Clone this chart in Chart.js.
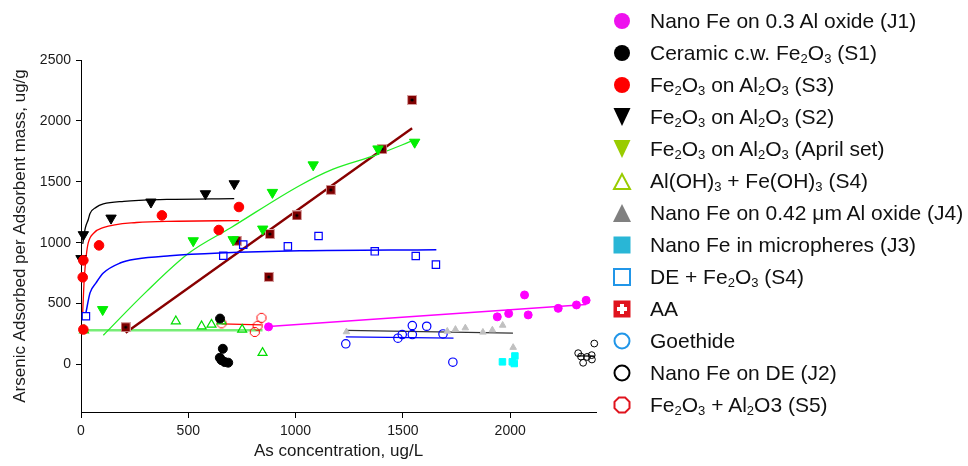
<!DOCTYPE html>
<html>
<head>
<meta charset="utf-8">
<script src="https://cdn.jsdelivr.net/npm/chart.js@4.4.1/dist/chart.umd.min.js"></script>
<style>
  html, body { margin: 0; padding: 0; background: #fff; }
  #wrap { position: relative; width: 968px; height: 466px; font-family: "Liberation Sans", Arial, sans-serif; }
  #chart { position: absolute; left: 0; top: 0; }
  .item { position: absolute; left: 612px; height: 32px; line-height: 32px; font-size: 21px; color: #111; white-space: nowrap; }
  .item svg { position: absolute; left: 0; top: 6px; }
  .item span { position: absolute; left: 38px; top: 0; }
  sub { font-size: 0.62em; vertical-align: -0.22em; line-height: 0; }
</style>
</head>
<body>
<div id="wrap">
  <canvas id="chart" width="968" height="466"></canvas>
  <div id="legend"></div>
</div>
<script>
// tick values
const xTicks = [0, 500, 1000, 1500, 2000];
const yTicks = [0, 500, 1000, 1500, 2000, 2500];

// measured points [As concentration ug/L, adsorbed ug/g]
const nanoFeJ1 = [[874, 309], [1940, 391], [1993, 418], [2067, 571], [2084, 407], [2224, 461], [2309, 489], [2354, 527]];
const ceramicS1 = [[648, 377], [661, 129], [647, 55], [655, 35], [670, 20], [686, 15]];
const fe2o3S3 = [[11, 287], [8, 716], [11, 855], [84, 978], [377, 1224], [642, 1104], [736, 1293]];
const fe2o3S2 = [[0, 870], [11, 1066], [140, 1202], [326, 1334], [580, 1402], [714, 1484]];
const fe2o3April = [[101, 451], [523, 1016], [709, 1025], [847, 1112], [892, 1413], [1082, 1639], [1384, 1770], [1555, 1825]];
const hydroxS4 = [[14, 281], [442, 355], [562, 314], [608, 328], [655, 355], [751, 287], [846, 96]];
const nanoFeJ4 = [[1237, 268], [1707, 273], [1745, 288], [1791, 300], [1873, 265], [1917, 283], [1965, 322], [2014, 140]];
const nanoFeJ3 = [[1964, 22], [2010, 22], [2022, 70], [2019, 8]];
const deFe2o3 = [[23, 396], [663, 893], [756, 984], [964, 970], [1107, 1055], [1369, 929], [1560, 891], [1654, 820]];
const aa = [[208, 306], [725, 1016], [880, 1071], [875, 719], [1006, 1224], [1164, 1434], [1404, 1768], [1543, 2172]];
const goethide = [[1234, 170], [1477, 216], [1497, 246], [1544, 320], [1544, 246], [1611, 314], [1687, 251], [1733, 19]];
const nanoFeJ2 = [[2317, 93], [2330, 65], [2340, 14], [2358, 62], [2380, 77], [2381, 41], [2392, 172]];
const fe2o3S5 = [[655, 338], [810, 267], [823, 318], [841, 383]];

// fitted lines
const fitS3 = [[8, 430], [15, 700], [25, 900], [34, 1000], [60, 1080], [103, 1123], [259, 1166], [450, 1176], [736, 1182]];
const fitS2 = [[8, 990], [20, 1120], [34, 1190], [42, 1240], [70, 1290], [104, 1318], [200, 1340], [400, 1355], [714, 1362]];
const fitDe = [[23, 424], [42, 588], [70, 670], [104, 751], [182, 833], [259, 866], [414, 893], [647, 915], [1020, 934], [1656, 943]];
const fitApril = [[104, 240], [300, 590], [503, 915], [700, 1125], [1020, 1470], [1175, 1604], [1377, 1721], [1555, 1844]];
const fitAA = [[208, 260], [1543, 1940]];
const fitS4 = [[10, 281], [846, 281]];
const fitJ1 = [[874, 312], [2354, 492]];
const fitJ4 = [[1237, 280], [2013, 258]];
const fitGoethide = [[1234, 227], [1736, 216]];
const fitJ2 = [[2315, 70], [2395, 68]];
const fitS5 = [[655, 333], [841, 325]];

const legendLabels = [
  'Nano Fe on 0.3 Al oxide (J1)',
  'Ceramic c.w. Fe<sub>2</sub>O<sub>3</sub> (S1)',
  'Fe<sub>2</sub>O<sub>3</sub> on Al<sub>2</sub>O<sub>3</sub> (S3)',
  'Fe<sub>2</sub>O<sub>3</sub> on Al<sub>2</sub>O<sub>3</sub> (S2)',
  'Fe<sub>2</sub>O<sub>3</sub> on Al<sub>2</sub>O<sub>3</sub> (April set)',
  'Al(OH)<sub>3</sub> + Fe(OH)<sub>3</sub> (S4)',
  'Nano Fe on 0.42 \u03BCm Al oxide (J4)',
  'Nano Fe in micropheres (J3)',
  'DE + Fe<sub>2</sub>O<sub>3</sub> (S4)',
  'AA',
  'Goethide',
  'Nano Fe on DE (J2)',
  'Fe<sub>2</sub>O<sub>3</sub> + Al<sub>2</sub>O3 (S5)'
];

// legend icons (svg, 20x20)
const legendIcons = [
  '<circle cx="10" cy="10" r="8" fill="#ee11ee"/>',
  '<circle cx="10" cy="10" r="8" fill="#000"/>',
  '<circle cx="10" cy="10" r="8" fill="#ff0000"/>',
  '<polygon points="1.5,1 18.5,1 10,19" fill="#000"/>',
  '<polygon points="1.5,1 18.5,1 10,19" fill="#99cc00"/>',
  '<polygon points="2,18 18,18 10,3" fill="none" stroke="#99cc00" stroke-width="2"/>',
  '<polygon points="1,19 19,19 10,1" fill="#808080"/>',
  '<rect x="1.5" y="1.5" width="17" height="17" fill="#29b6d6"/>',
  '<rect x="2" y="2" width="16" height="16" fill="none" stroke="#2196e8" stroke-width="2"/>',
  '<rect x="1.5" y="1.5" width="17" height="17" fill="#e0141e"/><path d="M8 5h4v3h3v4h-3v3h-4v-3h-3v-4h3z" fill="#fff"/>',
  '<circle cx="10" cy="10" r="7.5" fill="none" stroke="#2196e8" stroke-width="2"/>',
  '<circle cx="10" cy="10" r="7.5" fill="none" stroke="#000" stroke-width="2"/>',
  '<polygon points="6.9,2.5 13.1,2.5 17.5,6.9 17.5,13.1 13.1,17.5 6.9,17.5 2.5,13.1 2.5,6.9" fill="none" stroke="#e0141e" stroke-width="2"/>'
];

var legendBox = document.getElementById('legend');
legendLabels.forEach(function(label, i) {
  var row = document.createElement('div');
  row.className = 'item';
  row.style.top = (20.7 + i * 32.03 - 16) + 'px';
  row.innerHTML = '<svg width="20" height="20" viewBox="0 0 20 20">' + legendIcons[i] + '</svg><span>' + label + '</span>';
  legendBox.appendChild(row);
});

function toXY(arr) {
  return arr.map(function(p) { return { x: p[0], y: p[1] }; });
}

function makeMarker(size, draw) {
  var c = document.createElement('canvas');
  c.width = size;
  c.height = size;
  draw(c.getContext('2d'));
  return c;
}

var aaMarker = makeMarker(10, function(ctx) {
  ctx.fillStyle = '#d8a0a0';
  ctx.fillRect(0, 0, 10, 10);
  ctx.fillStyle = '#800000';
  ctx.fillRect(1, 1, 8, 8);
  ctx.fillStyle = '#000';
  ctx.beginPath();
  ctx.arc(5, 5, 1.6, 0, Math.PI * 2);
  ctx.fill();
});

var octMarker = makeMarker(12, function(ctx) {
  ctx.strokeStyle = '#ff0000';
  ctx.lineWidth = 1;
  ctx.beginPath();
  for (var k = 0; k < 8; k++) {
    var a = Math.PI / 8 + k * Math.PI / 4;
    var px = 6 + 4.8 * Math.cos(a), py = 6 + 4.8 * Math.sin(a);
    if (k === 0) ctx.moveTo(px, py); else ctx.lineTo(px, py);
  }
  ctx.closePath();
  ctx.stroke();
});

function points(arr, style) {
  return Object.assign({
    data: toXY(arr),
    showLine: false,
    clip: false,
    order: 1,
    pointBorderWidth: 1
  }, style);
}

function fitLine(arr, color, width, curved) {
  return {
    data: toXY(arr),
    showLine: true,
    clip: false,
    order: 2,
    pointRadius: 0,
    borderColor: color,
    borderWidth: width,
    fill: false,
    cubicInterpolationMode: curved ? 'monotone' : 'default'
  };
}

Chart.defaults.font.family = '"Liberation Sans", Arial, sans-serif';
Chart.defaults.color = '#1a1a1a';

new Chart(document.getElementById('chart'), {
  type: 'scatter',
  data: {
    datasets: [
      fitLine(fitS3, '#ff0000', 1.3, true),
      fitLine(fitS2, '#000000', 1.3, true),
      fitLine(fitDe, '#0000ff', 1.5, true),
      fitLine(fitApril, '#22ee22', 1.3, true),
      fitLine(fitAA, '#880000', 2.4, false),
      fitLine(fitS4, '#77ee77', 2.6, false),
      fitLine(fitJ1, '#ff00ff', 1.5, false),
      fitLine(fitJ4, '#333333', 1.3, false),
      fitLine(fitGoethide, '#0000ff', 1.3, false),
      fitLine(fitJ2, '#000000', 1.3, false),
      fitLine(fitS5, '#ff0000', 1.3, false),

      points(nanoFeJ1, { pointStyle: 'circle', pointRadius: 4, backgroundColor: '#ff00ff', borderColor: '#ff00ff' }),
      points(ceramicS1, { pointStyle: 'circle', pointRadius: 4.5, backgroundColor: '#000', borderColor: '#000' }),
      points(fe2o3S3, { pointStyle: 'circle', pointRadius: 4.8, backgroundColor: '#ff0000', borderColor: '#ff0000' }),
      points(fe2o3S2, { pointStyle: 'triangle', pointRotation: 180, pointRadius: 6, backgroundColor: '#000', borderColor: '#000' }),
      points(fe2o3April, { pointStyle: 'triangle', pointRotation: 180, pointRadius: 6, backgroundColor: '#00ee00', borderColor: '#00ee00' }),
      points(hydroxS4, { pointStyle: 'triangle', pointRadius: 5.2, backgroundColor: 'rgba(0,0,0,0)', borderColor: '#00dd00', pointBorderWidth: 1.2 }),
      points(nanoFeJ4, { pointStyle: 'triangle', pointRadius: 3.8, backgroundColor: '#c0c0c0', borderColor: '#c0c0c0' }),
      points(nanoFeJ3, { pointStyle: 'rect', pointRadius: 4.6, backgroundColor: '#00ffff', borderColor: '#00ffff' }),
      points(deFe2o3, { pointStyle: 'rect', pointRadius: 5.2, backgroundColor: 'rgba(0,0,0,0)', borderColor: '#0000ff', pointBorderWidth: 1.2 }),
      points(aa, { pointStyle: aaMarker, pointRadius: 5 }),
      points(goethide, { pointStyle: 'circle', pointRadius: 4.2, backgroundColor: 'rgba(0,0,0,0)', borderColor: '#0000ff', pointBorderWidth: 1.2 }),
      points(nanoFeJ2, { pointStyle: 'circle', pointRadius: 3.4, backgroundColor: 'rgba(0,0,0,0)', borderColor: '#000', pointBorderWidth: 1 }),
      points(fe2o3S5, { pointStyle: octMarker, pointRadius: 5 })
    ]
  },
  options: {
    responsive: false,
    animation: false,
    layout: { padding: { left: 0, top: 60, right: 372, bottom: 0 } },
    plugins: {
      legend: { display: false },
      tooltip: { enabled: false }
    },
    scales: {
      x: {
        type: 'linear',
        min: 0,
        max: 2400,
        afterBuildTicks: function(axis) { axis.ticks = xTicks.map(function(v) { return { value: v }; }); },
        afterFit: function(axis) { axis.height = 54; },
        ticks: { font: { size: 14 }, color: '#1a1a1a', padding: 5, maxRotation: 0, callback: function(v) { return String(v); } },
        grid: { drawOnChartArea: false, drawTicks: true, tickLength: 6, color: '#000' },
        border: { color: '#000', width: 1 },
        title: { display: true, text: 'As concentration, ug/L', font: { size: 17 }, color: '#1a1a1a', padding: { top: 0, bottom: 4 } }
      },
      y: {
        type: 'linear',
        min: -390,
        max: 2500,
        afterBuildTicks: function(axis) { axis.ticks = yTicks.map(function(v) { return { value: v }; }); },
        afterFit: function(axis) { axis.width = 81; },
        ticks: { font: { size: 14 }, color: '#1a1a1a', padding: 5, callback: function(v) { return String(v); } },
        grid: { drawOnChartArea: false, drawTicks: true, tickLength: 5, color: '#000' },
        border: { color: '#000', width: 1 },
        title: { display: true, text: 'Arsenic Adsorbed per Adsorbent mass, ug/g', font: { size: 17 }, color: '#1a1a1a', padding: { top: 10, bottom: 0 } }
      }
    }
  }
});
</script>
</body>
</html>
